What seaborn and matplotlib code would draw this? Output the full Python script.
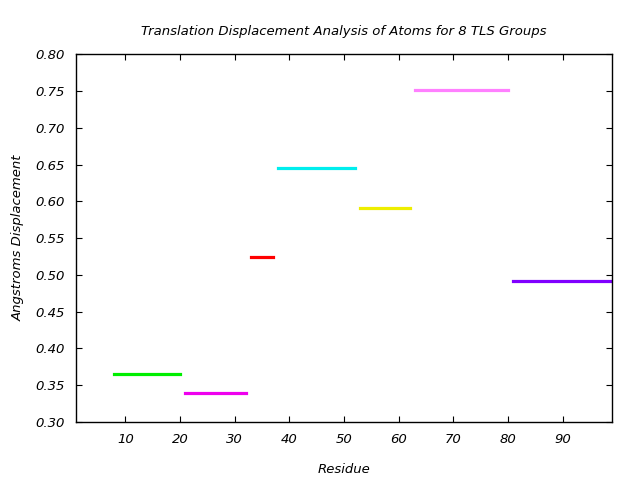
import matplotlib
matplotlib.use("Agg")
import matplotlib.pyplot as plt
import seaborn as sns
import pandas as pd

groups = ["1", "2", "3", "4", "5", "6", "7"]
start_res = [8, 21, 33, 38, 53, 63, 81]
end_res = [20, 32, 37, 52, 62, 80, 99]
displacement = [0.365, 0.340, 0.524, 0.645, 0.591, 0.752, 0.491]
colors = ["#00ee00", "#ee00ee", "#ff0000", "#00eeee", "#eeee00", "#ff80ff", "#8000ff"]
xticks = [10, 20, 30, 40, 50, 60, 70, 80, 90]
yticks = [0.30, 0.35, 0.40, 0.45, 0.50, 0.55, 0.60, 0.65, 0.70, 0.75, 0.80]

rows = []
for g, s, e, d in zip(groups, start_res, end_res, displacement):
    rows.append({"group": g, "residue": s, "disp": d})
    rows.append({"group": g, "residue": e, "disp": d})
df = pd.DataFrame(rows)

sns.set_style("white")
plt.rcParams["font.family"] = ["DejaVu Sans"]
plt.rcParams["text.color"] = "black"
plt.rcParams["axes.labelcolor"] = "black"
plt.rcParams["xtick.color"] = "black"
plt.rcParams["ytick.color"] = "black"

fig = plt.figure(figsize=(6.4, 4.8), dpi=100)
ax = fig.add_axes([0.119, 0.121, 0.837, 0.766])

sns.lineplot(data=df, x="residue", y="disp", hue="group", palette=colors,
             estimator=None, legend=False, linewidth=2.3, ax=ax,
             solid_capstyle="projecting")

ax.set_xlim(1, 99)
ax.set_ylim(0.30, 0.80)
ax.set_xticks(xticks)
ax.set_yticks(yticks)
ax.set_yticklabels([f"{v:.2f}" for v in yticks], fontsize=9.5, fontstyle="italic")
ax.set_xticklabels([str(v) for v in xticks], fontsize=9.5, fontstyle="italic")
ax.tick_params(direction="in", length=4, width=0.8, top=True, right=True,
               bottom=True, left=True, color="black", pad=8)
for sp in ax.spines.values():
    sp.set_visible(True)
    sp.set_color("black")
    sp.set_linewidth(1.0)

ax.set_xlabel("Residue", fontsize=9.5, fontstyle="italic", labelpad=12)
ax.set_ylabel("Angstroms Displacement", fontsize=9.5, fontstyle="italic", labelpad=8)
ax.set_title("Translation Displacement Analysis of Atoms for 8 TLS Groups",
             fontsize=9.5, fontstyle="italic", pad=14)

fig.savefig("out.png", dpi=100)
